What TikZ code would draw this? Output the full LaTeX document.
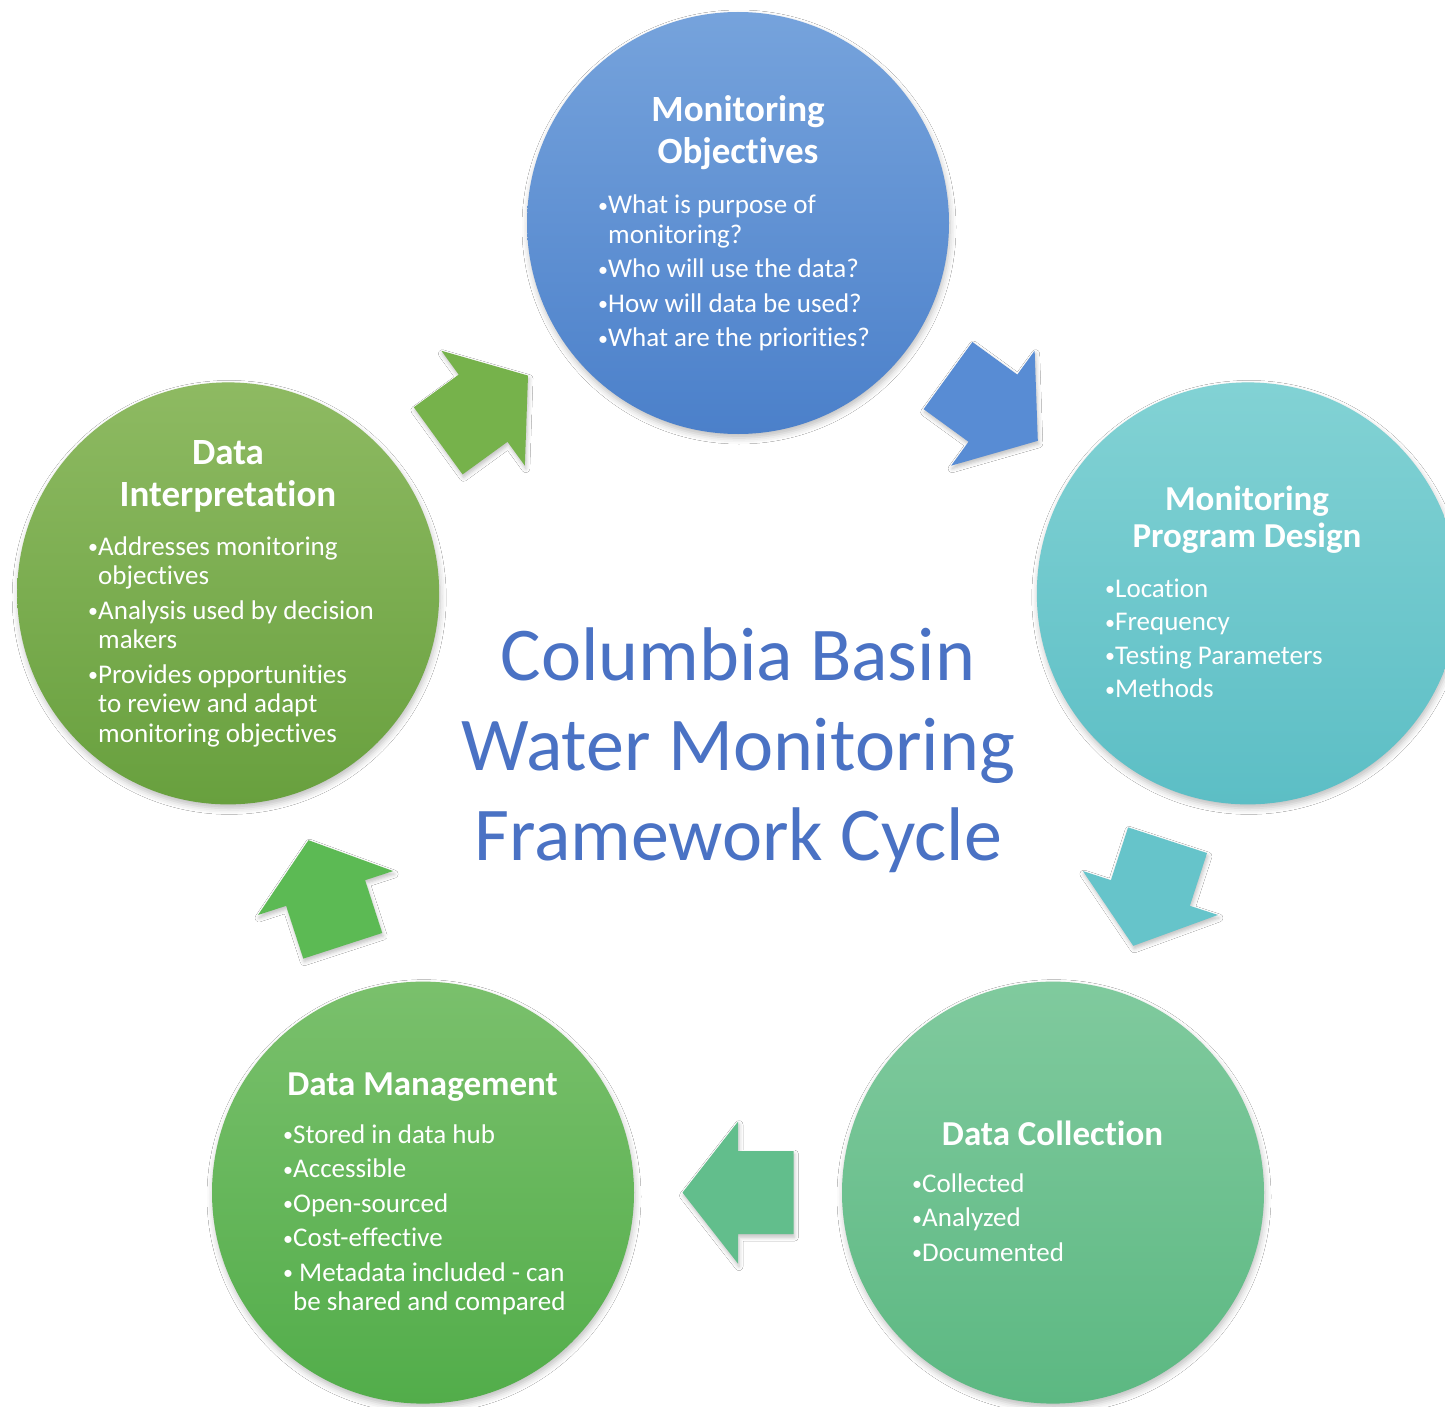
\documentclass[tikz,border=0pt]{standalone}
\usepackage{fontspec}
\setmainfont{Carlito}[RawFeature=-liga, RawFeature=-clig, RawFeature=-calt, RawFeature=-dlig]
\usetikzlibrary{calc,shadows.blur}
\definecolor{moTop}{RGB}{118,163,220}
\definecolor{moBot}{RGB}{75,128,202}
\definecolor{pdTop}{RGB}{130,210,212}
\definecolor{pdBot}{RGB}{92,190,197}
\definecolor{dcTop}{RGB}{128,202,158}
\definecolor{dcBot}{RGB}{92,184,130}
\definecolor{dmTop}{RGB}{122,192,108}
\definecolor{dmBot}{RGB}{82,173,74}
\definecolor{diTop}{RGB}{142,186,98}
\definecolor{diBot}{RGB}{104,160,62}
\definecolor{arrA}{RGB}{118,178,75}
\definecolor{arrB}{RGB}{88,140,212}
\definecolor{arrC}{RGB}{102,196,202}
\definecolor{arrD}{RGB}{98,190,140}
\definecolor{arrE}{RGB}{92,186,84}
\definecolor{titleblue}{RGB}{74,114,196}
\tikzset{
  stagecircle/.style={circle, minimum size=422pt, inner sep=0pt, draw=none,
    blur shadow={shadow xshift=1pt, shadow yshift=-4pt, shadow blur radius=6pt, shadow opacity=25}},
  stagetitle/.style={text=white, align=center, inner sep=0pt, anchor=base},
  stagelist/.style={text=white, font=\fontsize{27}{29.5}\selectfont, align=left, inner sep=0pt, anchor=base west},
  cycletitle/.style={text=titleblue, font=\fontsize{76}{90}\selectfont, align=center, inner sep=0pt, anchor=base},
  arrowshadow/.style={blur shadow={shadow xshift=1pt, shadow yshift=-3pt, shadow blur radius=4pt, shadow opacity=25}}
}
\newcommand\bul{\makebox[10pt][l]{\raisebox{1.5pt}{\fontsize{20}{20}\selectfont\textbullet}}}
\newcommand\ind{\hspace*{10pt}}
\newcommand\cyclearrow[4]{%
  \begin{scope}[shift={($(#1)!0.5!(#2)$)}, rotate=#3]
    \fill[#4, arrowshadow] (55.5,0) -- (0,71) -- (0,41.5) -- (-55.5,41.5)
      -- (-55.5,-41.5) -- (0,-41.5) -- (0,-71) -- cycle;
  \end{scope}}
\begin{document}
\begin{tikzpicture}[x=1pt,y=-1pt]
\fill[white] (0,0) rectangle (1445,1407);
\useasboundingbox (0,0) rectangle (1445,1407);
% circles
\node[stagecircle, top color=moTop, bottom color=moBot] (mo) at (738,223) {};
\node[stagecircle, top color=pdTop, bottom color=pdBot] (pd) at (1247.8,593.4) {};
\node[stagecircle, top color=dcTop, bottom color=dcBot] (dc) at (1053,1192.6) {};
\node[stagecircle, top color=dmTop, bottom color=dmBot] (dm) at (423,1192.6) {};
\node[stagecircle, top color=diTop, bottom color=diBot] (di) at (228.2,593.4) {};
% arrows
\cyclearrow{di}{mo}{36}{arrA}
\cyclearrow{mo}{pd}{-36}{arrB}
\cyclearrow{pd}{dc}{-108}{arrC}
\cyclearrow{dc}{dm}{180}{arrD}
\cyclearrow{dm}{di}{108}{arrE}
% titles (anchor = baseline of the last line)
\node[stagetitle, font=\bfseries\fontsize{37}{42}\selectfont] (moT) at (738,164) {Monitoring\\Objectives};
\node[stagetitle, font=\bfseries\fontsize{35}{37}\selectfont] (pdT) at (1247,547) {Monitoring\\Program Design};
\node[stagetitle, font=\bfseries\fontsize{35}{37}\selectfont] (dcT) at (1052.5,1145) {Data Collection};
\node[stagetitle, font=\bfseries\fontsize{35}{37}\selectfont] (dmT) at (422.5,1095) {Data Management};
\node[stagetitle, font=\bfseries\fontsize{37}{42}\selectfont] (diT) at (228,506) {Data\\Interpretation};
% lists (anchor = baseline of the last line)
\node[stagelist] (moL) at (598,346.5) {\bul What is purpose of\\ \ind monitoring?\\[5pt]
  \bul Who will use the data?\\[5pt] \bul How will data be used?\\[5pt] \bul What are the priorities?};
\node[stagelist] (pdL) at (1105,697.5) {\bul Location\\[4pt] \bul Frequency\\[4pt] \bul Testing Parameters\\[4pt] \bul Methods};
\node[stagelist] (dcL) at (912,1261) {\bul Collected\\[5pt] \bul Analyzed\\[5pt] \bul Documented};
\node[stagelist] (dmL) at (283,1310.5) {\bul Stored in data hub\\[5pt] \bul Accessible\\[5pt] \bul Open-sourced\\[5pt]
  \bul Cost-effective\\[5pt] \bul\hspace{6pt}Metadata included - can\\ \ind be shared and compared};
\node[stagelist] (diL) at (88,742) {\bul Addresses monitoring\\ \ind objectives\\[5pt]
  \bul Analysis used by decision\\ \ind makers\\[5pt] \bul Provides opportunities\\ \ind to review and adapt\\ \ind monitoring objectives};
% centre title
\node[cycletitle] (ct) at (738,860) {Columbia Basin\\Water Monitoring\\Framework Cycle};
\end{tikzpicture}
\end{document}
